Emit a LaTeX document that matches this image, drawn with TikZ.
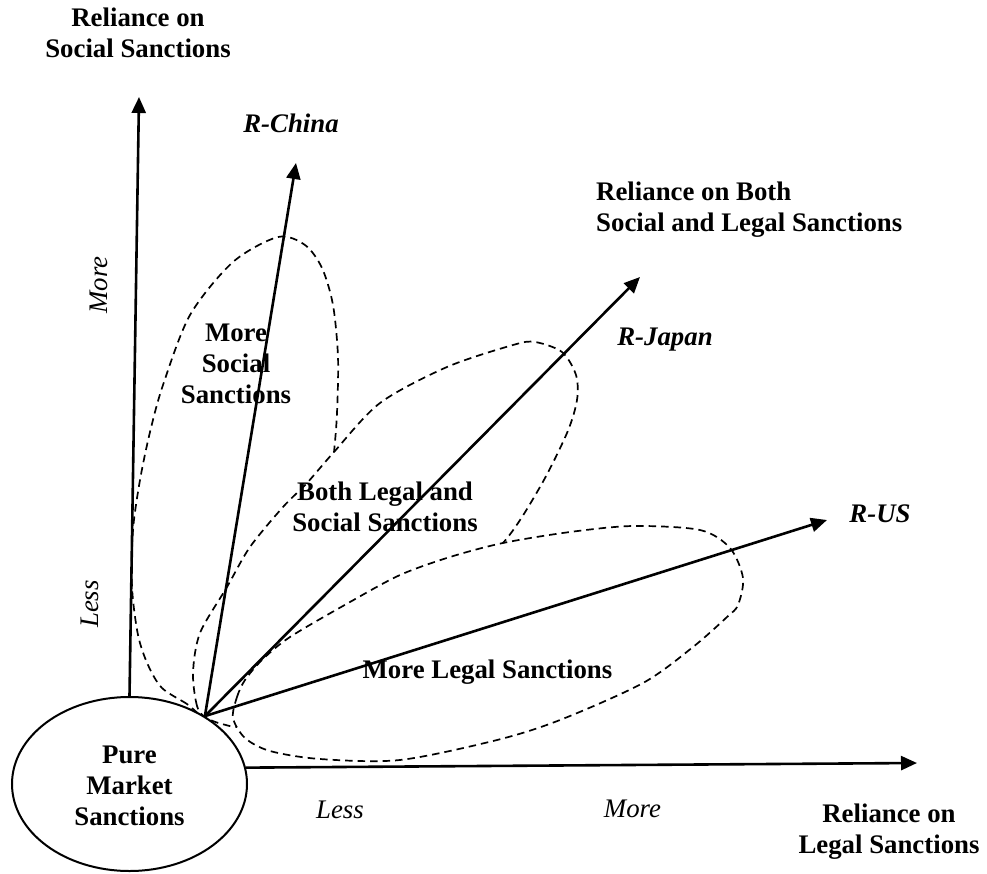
\documentclass[tikz,border=0pt]{standalone}
\usepackage{fontspec}
\setmainfont{Liberation Serif}
\usetikzlibrary{arrows.meta,shapes.geometric}
\begin{document}
\begin{tikzpicture}[x=1pt,y=-1pt,
  lbl/.style={font=\fontsize{26.8}{31}\selectfont\bfseries, align=center, inner sep=0},
  ital/.style={font=\fontsize{26.8}{31}\selectfont\itshape, inner sep=0},
  bital/.style={font=\fontsize{26.8}{31}\selectfont\bfseries\itshape, inner sep=0},
  axis/.style={line width=2.6pt, -{Triangle[length=16pt,width=14pt]}},
  petal/.style={draw, fill=white, line width=1.7pt, dash pattern=on 7.5pt off 5pt},
]
\useasboundingbox (0,0) rectangle (987,874);

% regions (later ones cover the hidden parts of earlier ones)
\path[petal] plot[smooth cycle] coordinates {
  (205,717) (187,704) (162,688) (148,665) (138,635) (132,587) (133,530)
  (140,480) (150,432) (163,385) (190,315) (233,262) (278,237) (305,245)
  (322,268) (333,305) (338,357) (337,413) (334,452) (330,480) (310,530)
  (280,590) (245,650) (218,700)};
\path[petal] plot[smooth cycle] coordinates {
  (205,717) (197,706) (193,673) (200,633) (227,587) (250,547) (283,507)
  (307,483) (334,452) (380,403) (447,367) (513,345) (535,342) (562,352)
  (576,375) (577,400) (567,433) (540,487) (503,543) (440,600) (360,660)
  (290,705) (245,726) (222,724)};
\path[petal] plot[smooth cycle] coordinates {
  (233,718) (237,697) (245,680) (262,660) (290,637) (350,602) (400,575)
  (450,557) (503,543) (570,532) (633,526) (700,530) (730,548) (743,578)
  (738,605) (727,617) (693,647) (643,683) (560,720) (497,740) (400,760)
  (320,759) (270,751) (245,738)};

% origin ellipse
\node[ellipse, draw, fill=white, line width=2pt, minimum width=235pt,
      minimum height=174pt, inner sep=0] (pm) at (129.5,784) {};
\node[lbl, anchor=base] (pmt) at (129.5,825) {Pure\\Market\\Sanctions};

\coordinate (o) at (pm.42);
\coordinate (ytip) at (139,97);
\coordinate (xtip) at (917,763);
\coordinate (cn) at (296,163);
\coordinate (jp) at (640,277);
\coordinate (us) at (827,520);

% axes and country rays
\draw[axis] (pm.north) -- (ytip);
\draw[axis] (pm.8) -- (xtip);
\draw[axis] (o) -- (cn);
\draw[axis] (o) -- (jp);
\draw[axis] (o) -- (us);

% labels (base anchor of a multi-line node sits on its last line)
\node[lbl, anchor=base] (ysoc) at (138,58) {Reliance on\\Social Sanctions};
\node[lbl, anchor=base] (xleg) at (889,853) {Reliance on\\Legal Sanctions};
\node[lbl, align=left, anchor=base west] (both) at (596,232)
  {Reliance on Both\\Social and Legal Sanctions};
\node[bital, anchor=base] (lcn) at (291,133) {R-China};
\node[bital, anchor=base] (ljp) at (665,345) {R-Japan};
\node[bital, anchor=base] (lus) at (880,522) {R-US};
\node[lbl, anchor=base] (rsoc) at (236,403) {More\\Social\\Sanctions};
\node[lbl, anchor=base] (rboth) at (385,531) {Both Legal and\\Social Sanctions};
\node[lbl, anchor=base] (rleg) at (487.5,678) {More Legal Sanctions};
\node[ital, anchor=base] (xless) at (340,818) {Less};
\node[ital, anchor=base] (xmore) at (632.5,817) {More};
\node[ital, anchor=base, rotate=90] (ymore) at (107,285) {More};
\node[ital, anchor=base, rotate=90] (yless) at (98,604) {Less};
\end{tikzpicture}
\end{document}
